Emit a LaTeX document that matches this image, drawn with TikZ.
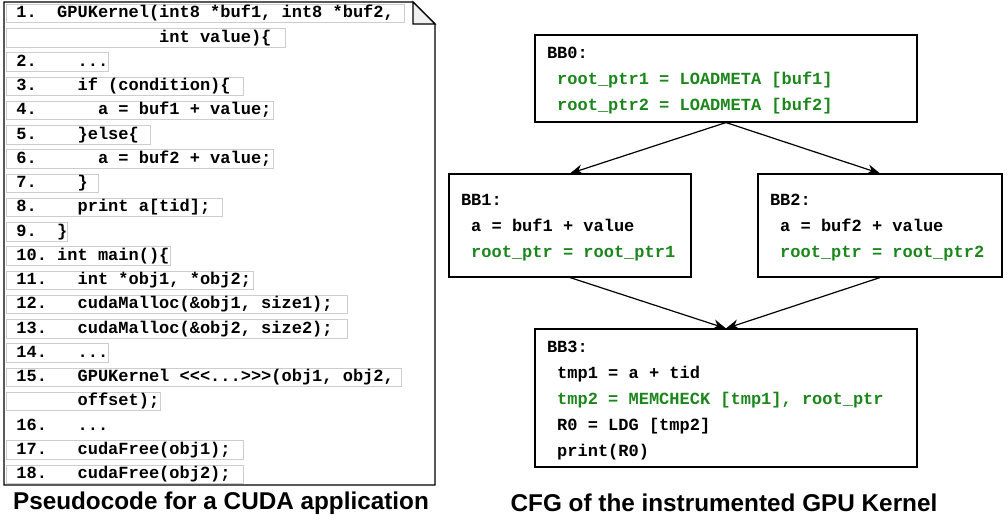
\documentclass[tikz,border=0pt]{standalone}
\usepackage{fontspec}
\usetikzlibrary{arrows.meta}
\newfontfamily\codefont{Liberation Mono}
\newfontfamily\capfont{Liberation Sans}
\definecolor{cfggreen}{RGB}{28,134,28}
\definecolor{rowgray}{RGB}{205,205,205}
\newcommand{\ind}[1]{\hspace*{#1\fontcharwd\font`0}}
\tikzset{
  codeline/.style={draw=rowgray, line width=0.8pt, anchor=west,
    inner xsep=10pt, inner ysep=0pt, minimum height=18.5pt,
    text height=12pt, text depth=3.5pt,
    font=\codefont\bfseries\fontsize{17}{20}\selectfont},
  bblock/.style={draw, line width=1.1pt, align=flush left,
    inner xsep=12pt, inner ysep=0pt, text height=16pt,
    font=\codefont\bfseries\fontsize{17}{26}\selectfont},
  cfgedge/.style={-{Stealth[length=13pt,width=10pt]}, line width=1.2pt},
  caption/.style={font=\capfont\bfseries\fontsize{24.3}{29}\selectfont}
}
\begin{document}
\begin{tikzpicture}[x=1pt,y=-1pt]
	\useasboundingbox (0,0) rectangle (1008,522);
	% listing rows
	\foreach [count=\i] \w/\b/\txt in {
		378/rowgray/{1.\ind{2}GPUKernel(int8 *buf1, int8 *buf2,},
		259/rowgray/{\ind{14}int value)\{},
		82/rowgray/{2.\ind{4}...},
		217/rowgray/{3.\ind{4}if (condition)\{},
		247/rowgray/{4.\ind{6}a = buf1 + value;},
		124/rowgray/{5.\ind{4}\}else\{},
		247/rowgray/{6.\ind{6}a = buf2 + value;},
		72/rowgray/{7.\ind{4}\}},
		196/rowgray/{8.\ind{4}print a[tid];},
		41/rowgray/{9.\ind{2}\}},
		144/rowgray/{10.\ind{1}int main()\{},
		227/rowgray/{11.\ind{3}int *obj1, *obj2;},
		321/rowgray/{12.\ind{3}cudaMalloc(\&obj1, size1);},
		321/rowgray/{13.\ind{3}cudaMalloc(\&obj2, size2);},
		82/rowgray/{14.\ind{3}...},
		375/rowgray/{15.\ind{3}GPUKernel <<<...>>>(obj1, obj2,},
		134/rowgray/{\ind{6}offset);},
		0/none/{16.\ind{3}...},
		217/rowgray/{17.\ind{3}cudaFree(obj1);},
		217/rowgray/{18.\ind{3}cudaFree(obj2);}}
		\node[codeline, draw=\b] (r\i) at (6,{13.5+(\i-1)*24.25}) {\makebox[\w pt][l]{\txt}};
	% page with folded corner
	\draw[line width=1.4pt] (4,2)--(413,2)--(435,24)--(435,485)--(4,485)--cycle;
	\draw[line width=1.1pt, fill=gray!12] (413,2)--(413,24)--(435,24)--cycle;
	% CFG
	\node[bblock, text width=358pt, minimum height=87pt] (bb0) at (726,78.5)
		{BB0:\\ \ind{1}\textcolor{cfggreen}{root\_ptr1 = LOADMETA [buf1]}\\
		\ind{1}\textcolor{cfggreen}{root\_ptr2 = LOADMETA [buf2]}};
	\node[bblock, text width=218pt, minimum height=103pt] (bb1) at (570,225.5)
		{BB1:\\ \ind{1}a = buf1 + value\\
		\ind{1}\textcolor{cfggreen}{root\_ptr = root\_ptr1}};
	\node[bblock, text width=220pt, minimum height=103pt] (bb2) at (880,225.5)
		{BB2:\\ \ind{1}a = buf2 + value\\
		\ind{1}\textcolor{cfggreen}{root\_ptr = root\_ptr2}};
	\node[bblock, text width=358pt, minimum height=138pt] (bb3) at (726,398)
		{BB3:\\ \ind{1}tmp1 = a + tid\\
		\ind{1}\textcolor{cfggreen}{tmp2 = MEMCHECK [tmp1], root\_ptr}\\
		\ind{1}R0 = LDG [tmp2]\\
		\ind{1}print(R0)};
	\draw[cfgedge] (bb0.south)--(bb1.north);
	\draw[cfgedge] (bb0.south)--(bb2.north);
	\draw[cfgedge] (bb1.south)--(bb3.north);
	\draw[cfgedge] (bb2.south)--(bb3.north);
	% captions
	\node[caption] (capl) at (221,503) {Pseudocode for a CUDA application};
	\node[caption] (capr) at (724,503) {CFG of the instrumented GPU Kernel};
\end{tikzpicture}
\end{document}
